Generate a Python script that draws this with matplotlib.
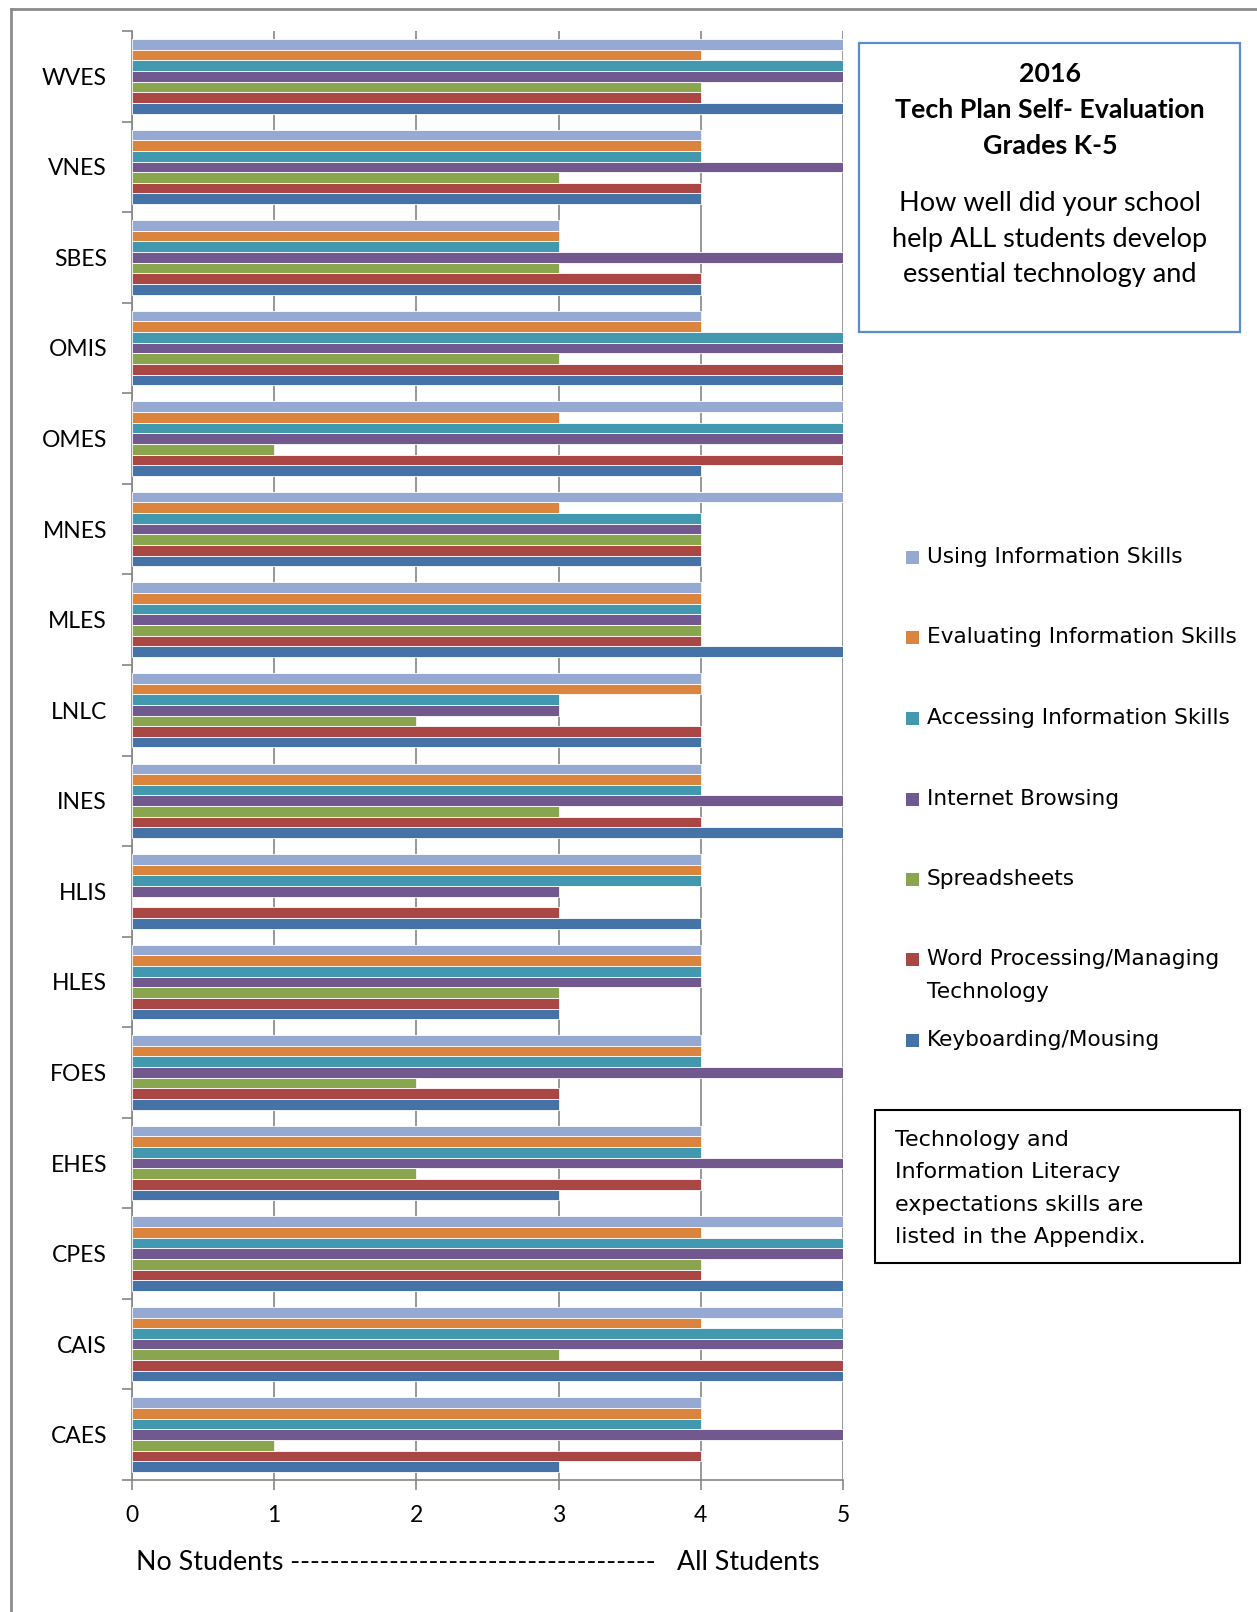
import matplotlib
matplotlib.use("Agg")
import matplotlib.pyplot as plt
import matplotlib.patches as mpatches
from matplotlib.lines import Line2D
import numpy as np

W, H = 1257, 1612

schools = ["WVES", "VNES", "SBES", "OMIS", "OMES", "MNES", "MLES", "LNLC",
           "INES", "HLIS", "HLES", "FOES", "EHES", "CPES", "CAIS", "CAES"]

using_info      = [5, 4, 3, 4, 5, 5, 4, 4, 4, 4, 4, 4, 4, 5, 5, 4]
evaluating_info = [4, 4, 3, 4, 3, 3, 4, 4, 4, 4, 4, 4, 4, 4, 4, 4]
accessing_info  = [5, 4, 3, 5, 5, 4, 4, 3, 4, 4, 4, 4, 4, 5, 5, 4]
internet        = [5, 5, 5, 5, 5, 4, 4, 3, 5, 3, 4, 5, 5, 5, 5, 5]
spreadsheets    = [4, 3, 3, 3, 1, 4, 4, 2, 3, 0, 3, 2, 2, 4, 3, 1]
word_processing = [4, 4, 4, 5, 5, 4, 4, 4, 4, 3, 3, 3, 4, 4, 5, 4]
keyboarding     = [5, 4, 4, 5, 4, 4, 5, 4, 5, 4, 3, 3, 3, 5, 5, 3]

series_names = ["Using Information Skills", "Evaluating Information Skills",
                "Accessing Information Skills", "Internet Browsing", "Spreadsheets",
                "Word Processing/Managing\nTechnology", "Keyboarding/Mousing"]
series_values = [using_info, evaluating_info, accessing_info, internet,
                 spreadsheets, word_processing, keyboarding]
series_colors = ["#95A9D2", "#DB843D", "#4198AF", "#71588F",
                 "#89A54E", "#AA4643", "#4572A7"]

note_lines = ["Technology and", "Information Literacy",
              "expectations skills are", "listed in the Appendix."]

calibri = ["Lato", "DejaVu Sans"]
tahoma = ["DejaVu Sans"]

fig = plt.figure(figsize=(W / 100, H / 100), dpi=100)
fig.patch.set_facecolor("white")


def fx(px):
    return px / W


def fy(py):
    return 1 - py / H


ax = fig.add_axes([fx(132), fy(1480), fx(843) - fx(132), fy(31) - fy(1480)])

n = len(schools)
ypos = np.arange(n)[::-1]          # first school at the top
bar_h = 0.1176
for j, (vals, col) in enumerate(zip(series_values, series_colors)):
    ax.barh(ypos + (3 - j) * bar_h, vals, height=bar_h, color=col,
            edgecolor="white", linewidth=0.6, zorder=3)

ax.set_xlim(0, 5)
ax.set_ylim(-0.5, n - 0.5)
ax.set_xticks(range(6))
ax.set_yticks(ypos)
ax.set_yticklabels(schools, family=calibri, fontsize=16.5)
ax.set_yticks(np.arange(-0.5, n, 1.0), minor=True)
ax.tick_params(axis="y", which="major", length=0, pad=18)
ax.tick_params(axis="y", which="minor", length=7, width=1.2, color="#868686",
               direction="out")
ax.tick_params(axis="x", length=7, width=1.2, color="#868686", pad=11,
               labelsize=16.5)
for lab in ax.get_xticklabels():
    lab.set_family(calibri)

ax.grid(axis="x", color="#868686", linewidth=1.2, zorder=1)
ax.set_axisbelow(True)
ax.spines[["top", "right"]].set_visible(False)
ax.spines[["left", "bottom"]].set_color("#868686")
ax.spines[["left", "bottom"]].set_linewidth(1.2)

# axis caption under the tick labels
fig.text(fx(136), fy(1562), "No Students " + "-" * 37, family=calibri,
         fontsize=19.3, va="center", ha="left")
fig.text(fx(677), fy(1562), "All Students", family=calibri,
         fontsize=19.3, va="center", ha="left")

# outer frame (top and left edges)
fig.add_artist(Line2D([fx(11), 1], [fy(9), fy(9)], color="#8C8C8C", lw=2))
fig.add_artist(Line2D([fx(11), fx(11)], [fy(9), 0], color="#8C8C8C", lw=2))

# title box
fig.add_artist(mpatches.Rectangle((fx(859), fy(332)), fx(1240) - fx(859),
                                  fy(43) - fy(332), fill=False,
                                  edgecolor="#5B8CCB", lw=1.6))
cx = fx(1050)
for txt, y in [("2016", 74), ("Tech Plan Self- Evaluation", 110),
               ("Grades K-5", 146)]:
    fig.text(cx, fy(y), txt, family=calibri, fontsize=19.3, fontweight="bold",
             ha="center", va="center")
for txt, y in [("How well did your school", 204),
               ("help ALL students develop", 240),
               ("essential technology and", 274.5)]:
    fig.text(cx, fy(y), txt, family=calibri, fontsize=19.5,
             ha="center", va="center")

# legend, one row per series; wrapped names continue below the first line
leg_y = [557, 637, 718, 799, 879, 959, 1040]
for name, col, y in zip(series_names, series_colors, leg_y):
    fig.add_artist(mpatches.Rectangle((fx(906), fy(y + 6.5)), fx(13), 13 / H,
                                      facecolor=col, edgecolor="none"))
    for k, part in enumerate(name.split("\n")):
        fig.text(fx(927), fy(y + 33 * k), part, family=tahoma, fontsize=15.6,
                 ha="left", va="center")

# note box
fig.add_artist(mpatches.Rectangle((fx(875), fy(1263)), fx(1240) - fx(875),
                                  fy(1110) - fy(1263), fill=False,
                                  edgecolor="black", lw=1.5))
for k, line in enumerate(note_lines):
    fig.text(fx(895), fy(1140 + 32.3 * k), line, family=tahoma, fontsize=16,
             ha="left", va="center")

fig.savefig("out.png", dpi=100, facecolor="white")
plt.close(fig)
